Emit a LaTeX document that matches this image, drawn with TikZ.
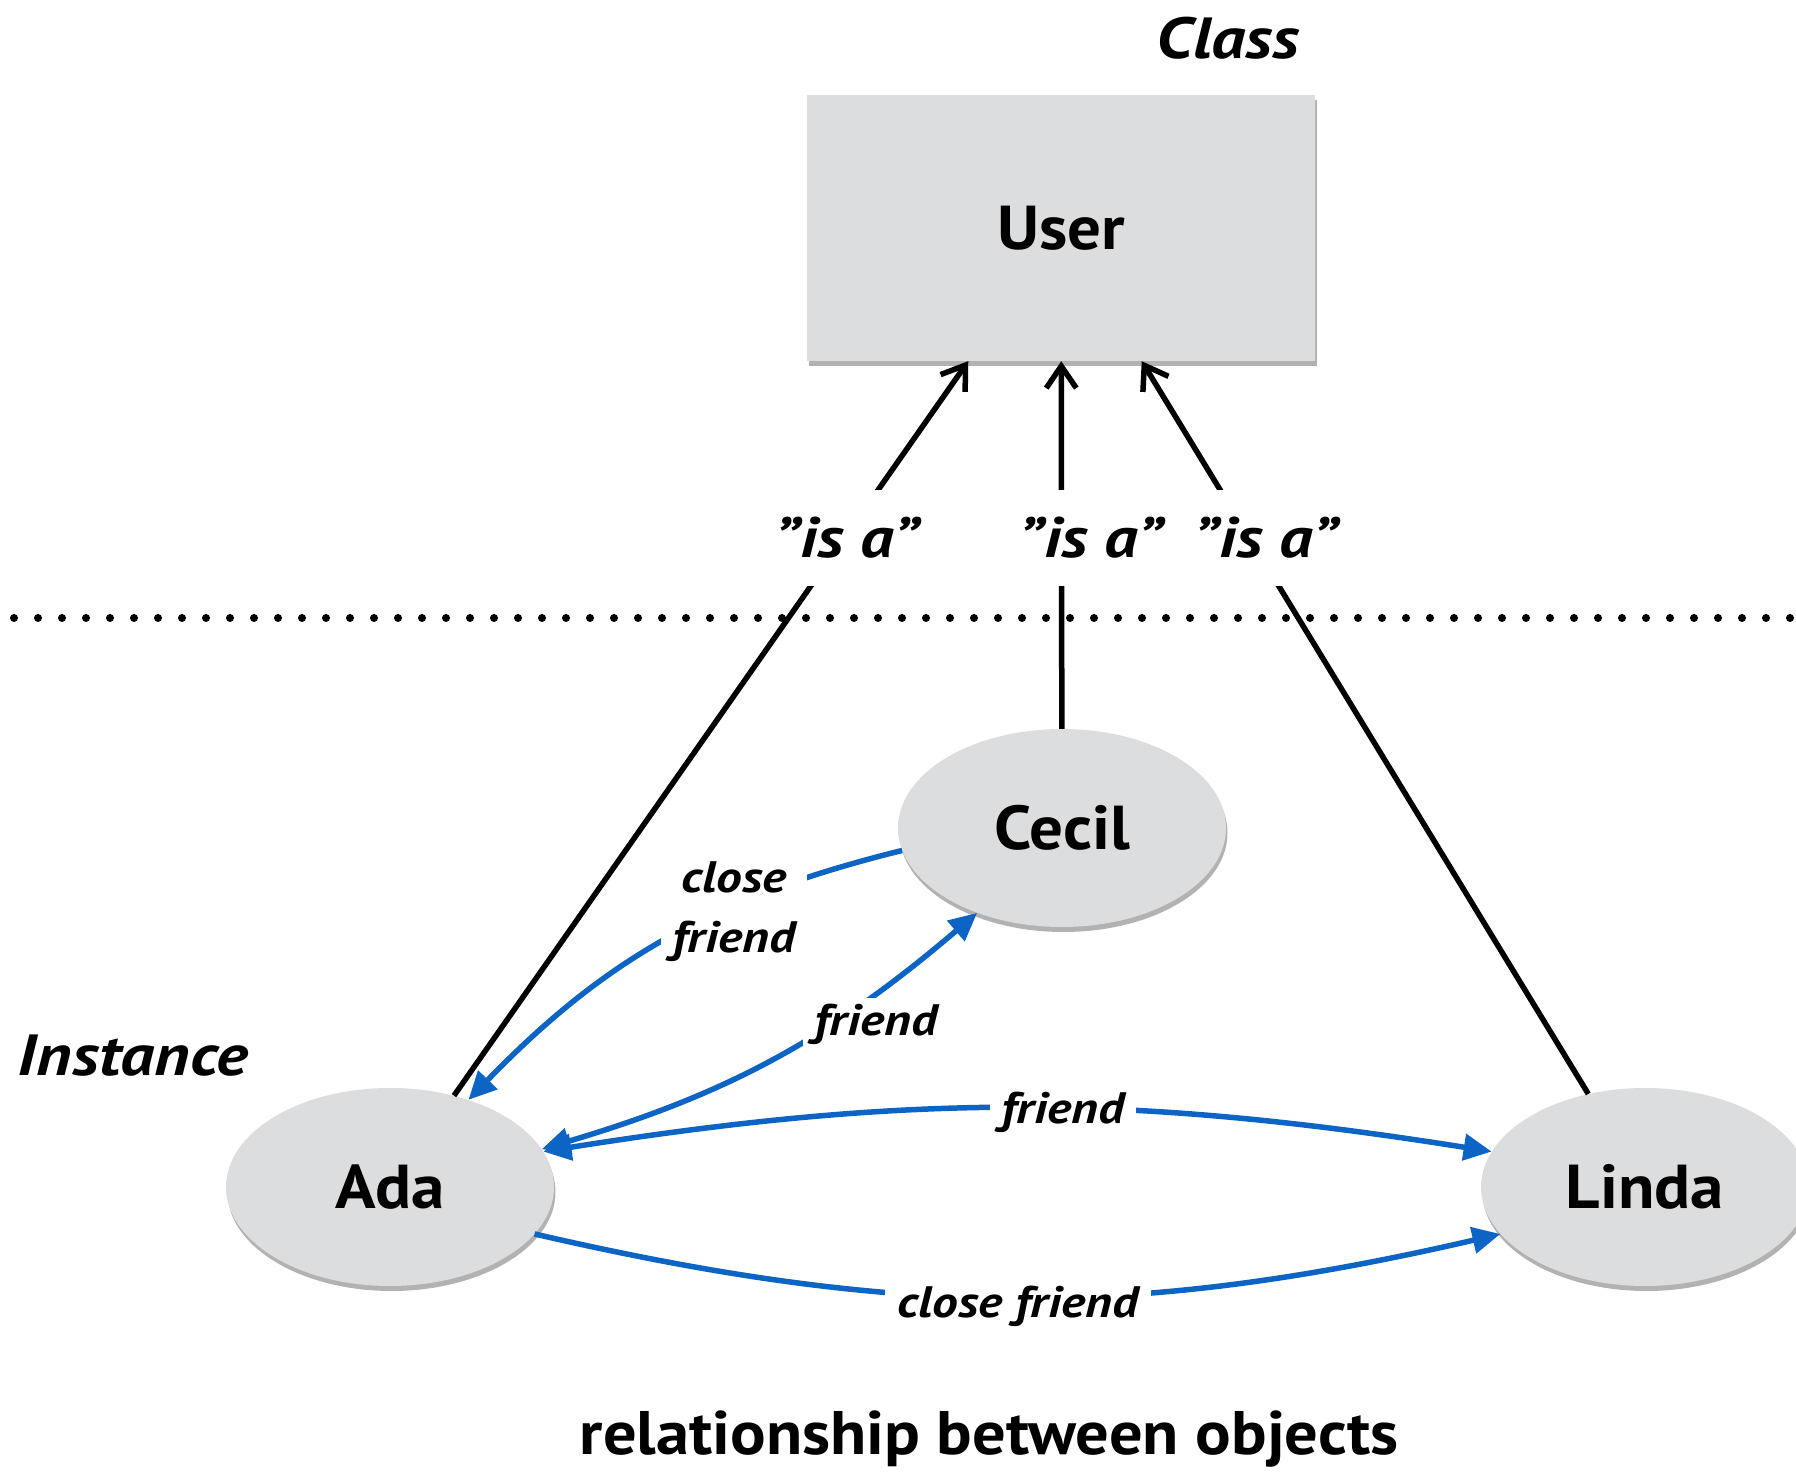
\documentclass[tikz,border=0pt]{standalone}
\usepackage{fontspec}
\setmainfont{PT Sans}[BoldFeatures={FakeStretch=1.08},BoldItalicFeatures={FakeStretch=1.17}]
\usetikzlibrary{arrows.meta,shadows,shapes.geometric}
\definecolor{nodegray}{RGB}{220,221,223}
\definecolor{relblue}{RGB}{12,100,196}
\newcommand{\fs}[1]{\fontsize{#1}{#1}\selectfont}
\begin{document}
\begin{tikzpicture}[x=1pt,y=1pt,
  shade/.style={drop shadow={shadow xshift=1.5pt,shadow yshift=-5pt,opacity=0.3,fill=black}},
  objnode/.style={ellipse,fill=nodegray,minimum width=328pt,minimum height=198pt,inner sep=0pt,font=\fs{62}\bfseries,shade},
  classbox/.style={rectangle,fill=nodegray,minimum width=508pt,minimum height=266pt,inner sep=0pt,font=\fs{62}\bfseries,shade},
  headline/.style={font=\fs{58}\bfseries\itshape,inner sep=0pt},
  isa/.style={line width=5.5pt,-{Straight Barb[length=22pt,width=30pt]}},
  isalabel/.style={fill=white,minimum height=96pt,inner xsep=4pt,inner ysep=0pt,font=\fs{57}\bfseries\itshape},
  rel/.style={line width=5.5pt,draw=relblue},
  rellabel/.style={fill=white,inner xsep=12pt,inner ysep=6pt,font=\fs{44}\bfseries\itshape},
  dotline/.style={line width=8pt,line cap=round,dash pattern=on 0pt off 24pt}
]
\useasboundingbox (0,0) rectangle (1796,1472);

% separator
\coordinate (sepL) at (14,854);
\coordinate (sepR) at (1796,854);
\draw[dotline] (sepL) -- (sepR);

% nodes
\node[classbox] (user) at (1061,1244) {User};
\node[objnode] (cecil) at (1062,644) {Cecil};
\node[objnode] (ada) at (390,285) {Ada};
\node[objnode] (linda) at (1645,285) {Linda};

\node[headline,anchor=base] (classlbl) at (1228,1413) {Class};
\node[headline,anchor=base] (instlbl) at (133,396) {Instance};
\node[anchor=base,inner sep=0pt,font=\fs{61.5}\bfseries] (title) at (989,17) {relationship between objects};

% is-a connectors
\draw[isa] (ada) -- (user);
\draw[isa] (cecil) -- (user);
\draw[isa] (linda) -- (user);
\node[isalabel] (isa1) at (847,934) {”is a”};
\node[isalabel] (isa2) at (1091,934) {”is a”};
\node[isalabel] (isa3) at (1266,934) {”is a”};

% relations
\draw[rel,-{Triangle[length=28pt,width=26pt]}] (cecil.188) to[bend right=16] (ada.48);
\node[rellabel,align=center,font=\fontsize{44}{60}\selectfont\bfseries\itshape] (cf1) at (734,560) {close\\friend};

\draw[rel,{Triangle[length=28pt,width=26pt]}-{Triangle[length=28pt,width=26pt]}] (ada.14) to[bend right=12] (cecil.225);
\node[rellabel] (f1) at (876,448) {friend};

\draw[rel,{Triangle[length=28pt,width=26pt]}-{Triangle[length=28pt,width=26pt]}] (ada.13) to[bend left=9] (linda.167);
\node[rellabel] (f2) at (1063,360) {friend};

\draw[rel,-{Triangle[length=28pt,width=26pt]}] (ada.-18) to[bend right=13] (linda.198);
\node[rellabel] (cf2) at (1018,166) {close friend};
\end{tikzpicture}
\end{document}
